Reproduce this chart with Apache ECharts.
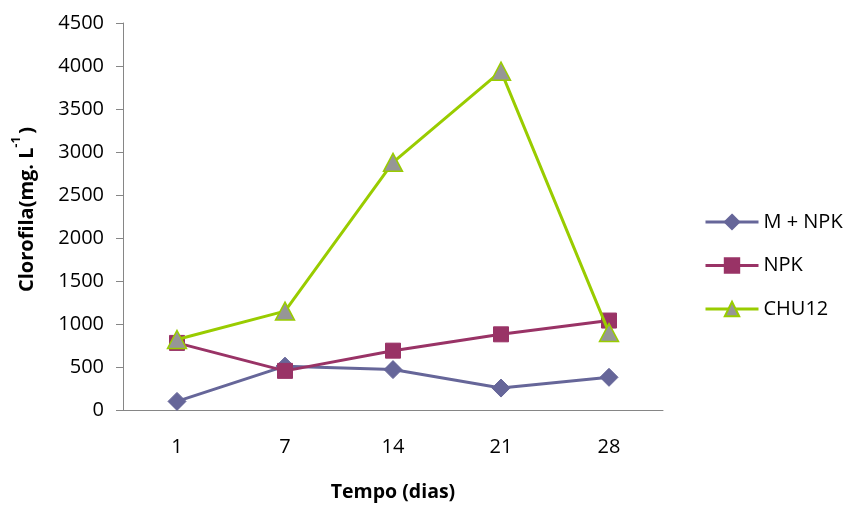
<!DOCTYPE html>
<html>
<head>
<meta charset="utf-8">
<script src="https://cdn.jsdelivr.net/npm/echarts@6/dist/echarts.min.js"></script>
<style>
html,body{margin:0;padding:0;background:#fff;}
#chart{width:849px;height:507px;}
</style>
</head>
<body>
<div id="chart"></div>
<script>
var categories = ['1', '7', '14', '21', '28'];
var seriesNames = ['M + NPK', 'NPK', 'CHU12'];
var mNpk = [100, 510, 470, 255, 380];
var npk = [780, 455, 690, 880, 1040];
var chu12 = [820, 1150, 2880, 3940, 900];
var yTicks = [0, 500, 1000, 1500, 2000, 2500, 3000, 3500, 4000, 4500];

var FONT = '"Open Sans", "Liberation Sans", sans-serif';
var chart = echarts.init(document.getElementById('chart'), null, {renderer: 'canvas'});
var option = {
  animation: false,
  backgroundColor: '#ffffff',
  textStyle: {fontFamily: FONT},
  grid: {left: 123, right: 186, top: 23, bottom: 94, containLabel: false},
  legend: {
    orient: 'vertical',
    left: 704,
    top: 212,
    padding: 0,
    itemWidth: 53,
    itemHeight: 18,
    itemGap: 23.5,
    lineStyle: {width: 3},
    textStyle: {fontFamily: FONT, fontSize: 20, color: '#000'},
    data: seriesNames
  },
  xAxis: {
    type: 'category',
    data: categories,
    boundaryGap: true,
    name: 'Tempo (dias)',
    nameLocation: 'middle',
    nameGap: 72,
    nameTextStyle: {fontFamily: FONT, fontSize: 19.5, fontWeight: 'bold', color: '#000'},
    axisLine: {lineStyle: {color: '#868686', width: 1}},
    axisTick: {show: false},
    axisLabel: {margin: 27, fontFamily: FONT, fontSize: 20, color: '#000'},
    splitLine: {show: false}
  },
  yAxis: {
    type: 'value',
    min: yTicks[0],
    max: yTicks[yTicks.length - 1],
    interval: yTicks[1] - yTicks[0],
    name: '{b|Clorofila(mg. L}{s|-1}{b|)}',
    nameLocation: 'middle',
    nameGap: 86,
    nameRotate: 90,
    nameTextStyle: {
      fontFamily: FONT,
      color: '#000',
      padding: [0, 0, 0, 14],
      rich: {
        b: {fontFamily: FONT, fontSize: 20, fontWeight: 'bold', color: '#000', lineHeight: 26, verticalAlign: 'bottom'},
        s: {fontFamily: FONT, fontSize: 12, fontWeight: 'bold', color: '#000', lineHeight: 26, verticalAlign: 'top', padding: [0, 3, 0, 0]}
      }
    },
    axisLine: {show: true, lineStyle: {color: '#868686', width: 1}},
    axisTick: {show: true, length: 7, inside: false, lineStyle: {color: '#868686'}},
    axisLabel: {
      margin: 19, fontFamily: FONT, fontSize: 20, color: '#000',
      formatter: function (v) { return String(v); }
    },
    splitLine: {show: false}
  },
  series: [
    {
      name: seriesNames[0],
      type: 'line',
      data: mNpk,
      symbol: 'diamond',
      symbolSize: [18, 18],
      lineStyle: {color: '#666699', width: 3},
      itemStyle: {color: '#666699', borderColor: '#666699', borderWidth: 1},
      z: 2
    },
    {
      name: seriesNames[1],
      type: 'line',
      data: npk,
      symbol: 'rect',
      symbolSize: 15,
      lineStyle: {color: '#993366', width: 3},
      itemStyle: {color: '#993366', borderColor: '#993366', borderWidth: 1},
      z: 3
    },
    {
      name: seriesNames[2],
      type: 'line',
      data: chu12,
      symbol: 'triangle',
      symbolSize: [19, 18],
      lineStyle: {color: '#99CC00', width: 3},
      itemStyle: {color: '#969696', borderColor: '#99CC00', borderWidth: 1.5},
      z: 4
    }
  ]
};
chart.setOption(option);
</script>
</body>
</html>
